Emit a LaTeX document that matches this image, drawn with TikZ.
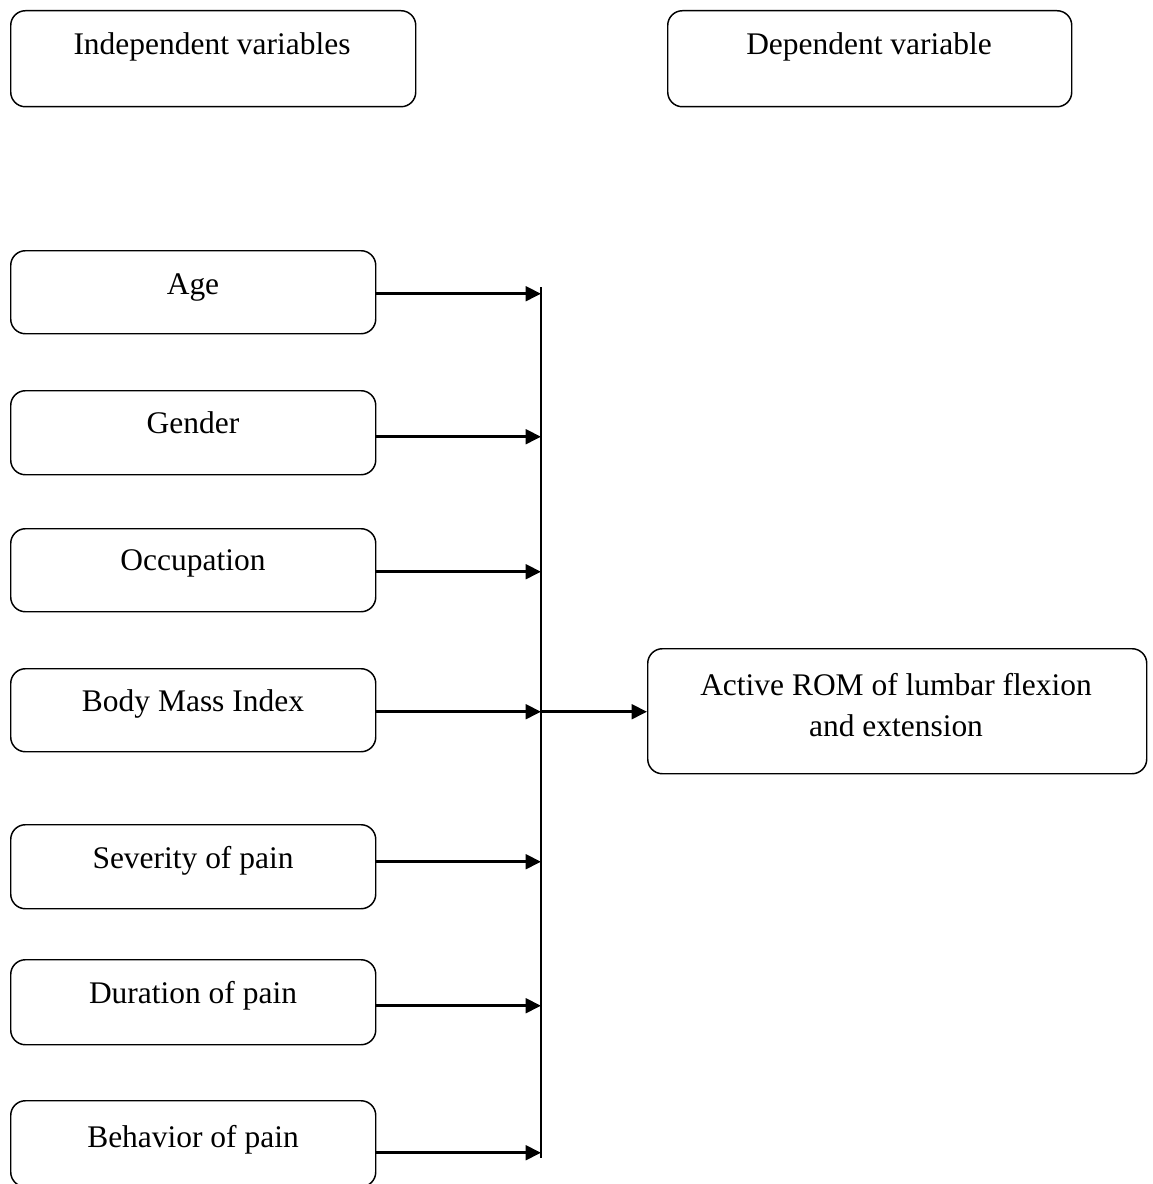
\documentclass[tikz,border=0pt]{standalone}
\usepackage{fontspec}
\setmainfont{Liberation Serif}
\usetikzlibrary{arrows.meta}
\tikzset{
  vbox/.style={draw, rounded corners=11pt, line width=1.1pt, inner sep=0pt, anchor=north west},
  lbl/.style={anchor=base, inner sep=0pt, font=\fontsize{23.6}{30}\selectfont},
  arr/.style={line width=2pt, -{Triangle[length=11.5pt,width=11pt]}},
  busline/.style={line width=1pt}
}
\newcommand{\vb}[6]{% name, x, y, w, h
  \node[vbox, minimum width=#4*0.75pt, minimum height=#5*0.75pt] (#1) at (#2,#3) {};}
\begin{document}
\begin{tikzpicture}[x=0.75pt,y=-0.75pt]
\useasboundingbox (0,0) rectangle (1152,1184);
% header boxes
\vb{indep}{10}{10}{405}{96}{}
\node[lbl] (indeptxt) at (212,55) {Independent variables};
\vb{dep}{667}{10}{404}{96}{}
\node[lbl] (deptxt) at (869,55) {Dependent variable};
% variable boxes
\vb{age}{10}{250}{365}{83}{}
\node[lbl] (agetxt) at (193,294) {Age};
\vb{gender}{10}{390}{365}{84}{}
\node[lbl] (gendertxt) at (193,433) {Gender};
\vb{occ}{10}{528}{365}{83}{}
\node[lbl] (occtxt) at (193,570) {Occupation};
\vb{bmi}{10}{668}{365}{83}{}
\node[lbl] (bmitxt) at (193,711) {Body Mass Index};
\vb{sev}{10}{824}{365}{84}{}
\node[lbl] (sevtxt) at (193,868) {Severity of pain};
\vb{dur}{10}{959}{365}{85}{}
\node[lbl] (durtxt) at (193,1003) {Duration of pain};
\vb{beh}{10}{1100}{365}{86}{}
\node[lbl] (behtxt) at (193,1147) {Behavior of pain};
% outcome box
\vb{rom}{647}{648}{499}{125}{}
\node[lbl] (romtxt1) at (896,695) {Active ROM of lumbar flexion};
\node[lbl] (romtxt2) at (896,736) {and extension};
% bus
\coordinate (bustop) at (541,287);
\coordinate (busbot) at (541,1158);
\draw[busline] (bustop) -- (busbot);
% arrows
\draw[arr] ([yshift=-1.5*0.75pt]age.east) -- ([yshift=-1.5*0.75pt]age.east -| bustop);
\draw[arr] ([yshift=-4*0.75pt]gender.east) -- ([yshift=-4*0.75pt]gender.east -| bustop);
\draw[arr] ([yshift=-1.5*0.75pt]occ.east) -- ([yshift=-1.5*0.75pt]occ.east -| bustop);
\draw[arr] ([yshift=-1.5*0.75pt]bmi.east) -- ([yshift=-1.5*0.75pt]bmi.east -| bustop);
\draw[arr] ([yshift=5*0.75pt]sev.east) -- ([yshift=5*0.75pt]sev.east -| bustop);
\draw[arr] ([yshift=-3.5*0.75pt]dur.east) -- ([yshift=-3.5*0.75pt]dur.east -| bustop);
\draw[arr] ([yshift=-9*0.75pt]beh.east) -- ([yshift=-9*0.75pt]beh.east -| bustop);
\draw[arr] ([yshift=-1.5*0.75pt]bmi.east -| bustop) -- ([yshift=-1.5*0.75pt]bmi.east -| rom.west);
\end{tikzpicture}
\end{document}
